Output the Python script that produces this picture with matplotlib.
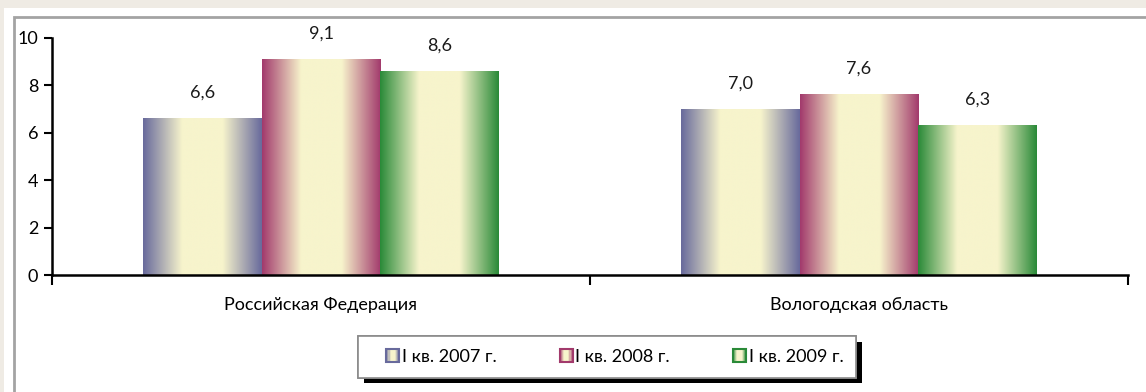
import numpy as np
import matplotlib
matplotlib.use("Agg")
import matplotlib.pyplot as plt
from matplotlib.colors import LinearSegmentedColormap, to_rgb
from matplotlib.patches import Rectangle
from matplotlib.legend_handler import HandlerBase
import matplotlib.patheffects as pe

categories = ["Российская Федерация", "Вологодская область"]
series_labels = ["I кв. 2007 г.", "I кв. 2008 г.", "I кв. 2009 г."]
values_2007 = [6.6, 7.0]
values_2008 = [9.1, 7.6]
values_2009 = [8.6, 6.3]
series_values = [values_2007, values_2008, values_2009]
series_colors = ["#686a9c", "#a23a6c", "#2a8a38"]
cream = "#f7f4cc"
yticks = [0, 2, 4, 6, 8, 10]

plt.rcParams["font.family"] = ["Lato", "DejaVu Sans"]

W, H = 1146, 392
fig = plt.figure(figsize=(W / 100, H / 100), dpi=100)
fig.patch.set_facecolor("#efebe4")

# white panel with grey frame
fig.patches.append(Rectangle((4 / W, 0), 1 - 4 / W, 1 - 8 / H, transform=fig.transFigure,
                             facecolor="white", edgecolor="none", zorder=0))
fig.patches.append(Rectangle((14 / W, -0.05), 1.2, 1 - 17 / H + 0.05, transform=fig.transFigure,
                             facecolor="none", edgecolor="#a3a3a3", linewidth=2, zorder=1))

ax = fig.add_axes([52 / W, 1 - 275 / H, (1128 - 52) / W, (275 - 38) / H])
ax.set_facecolor("none")
ax.set_zorder(3)


def gradient_cmap(color):
    c = to_rgb(color)
    return LinearSegmentedColormap.from_list(
        "g", [(0.0, c), (0.33, cream), (0.5, cream), (0.67, cream), (1.0, c)])


n = len(series_values)
bar_w = 0.221
x = np.arange(len(categories))
grad = np.linspace(0, 1, 256).reshape(1, -1)
for i, (vals, col) in enumerate(zip(series_values, series_colors)):
    offs = (i - (n - 1) / 2) * bar_w
    bars = ax.bar(x + offs, vals, bar_w, color="none", edgecolor="none", zorder=2)
    for b, v in zip(bars, vals):
        x0, w, h = b.get_x(), b.get_width(), b.get_height()
        ax.imshow(grad, cmap=gradient_cmap(col), extent=(x0, x0 + w, 0, h),
                  aspect="auto", zorder=2, interpolation="bilinear")
        ax.text(x0 + w / 2, h + 0.75, f"{v:.1f}".replace(".", ","), ha="center",
                va="bottom", fontsize=13, color="#1a1a1a")

ax.set_xlim(-0.5, len(categories) - 0.5)
ax.set_ylim(0, 10)
ax.set_yticks(yticks)
ax.set_yticklabels([str(t) for t in yticks], fontsize=13)
ax.set_xticks(np.arange(len(categories) + 1) - 0.5)
ax.set_xticklabels([])
ax.set_xticks(x, minor=True)
ax.set_xticklabels(categories, minor=True, fontsize=13)
ax.tick_params(axis="x", which="minor", length=0, pad=16)
ax.tick_params(axis="x", which="major", length=7, width=1.5, direction="out")
ax.tick_params(axis="y", length=6, width=1.5, direction="out", pad=4)
for s in ["top", "right"]:
    ax.spines[s].set_visible(False)
for s in ["left", "bottom"]:
    ax.spines[s].set_linewidth(1.8)


class GradientHandler(HandlerBase):
    def __init__(self, color):
        super().__init__()
        self.color = color

    def create_artists(self, legend, orig_handle, xdescent, ydescent, width, height,
                       fontsize, trans):
        size = height * 1.05
        x0 = width - size - xdescent
        y0 = -ydescent + (height - size) / 2
        cmap = gradient_cmap(self.color)
        nstrip = 12
        arts = []
        for k in range(nstrip):
            arts.append(Rectangle((x0 + k * size / nstrip, y0), size / nstrip + 0.2, size,
                                  facecolor=cmap((k + 0.5) / nstrip), edgecolor="none",
                                  transform=trans))
        arts.append(Rectangle((x0, y0), size, size, facecolor="none",
                              edgecolor=self.color, linewidth=1.5, transform=trans))
        return arts


handles = [Rectangle((0, 0), 1, 1) for _ in series_labels]
leg = fig.legend(handles, series_labels, loc="center", bbox_to_anchor=(607 / W, 1 - 357 / H),
                 ncol=3, frameon=True, fancybox=False, shadow=False, fontsize=13,
                 handler_map={h: GradientHandler(c) for h, c in zip(handles, series_colors)},
                 handlelength=1.6, handletextpad=0.15, columnspacing=2.6,
                 borderpad=0.7, borderaxespad=0, edgecolor="#8a8a8a", facecolor="white",
                 framealpha=1)
leg.set_zorder(4)
leg.get_frame().set_linewidth(1.2)
leg.get_frame().set_path_effects([pe.withSimplePatchShadow(offset=(4, -4), shadow_rgbFace="black", alpha=1), pe.Normal()])

fig.savefig("out.png", dpi=100, facecolor=fig.get_facecolor())
